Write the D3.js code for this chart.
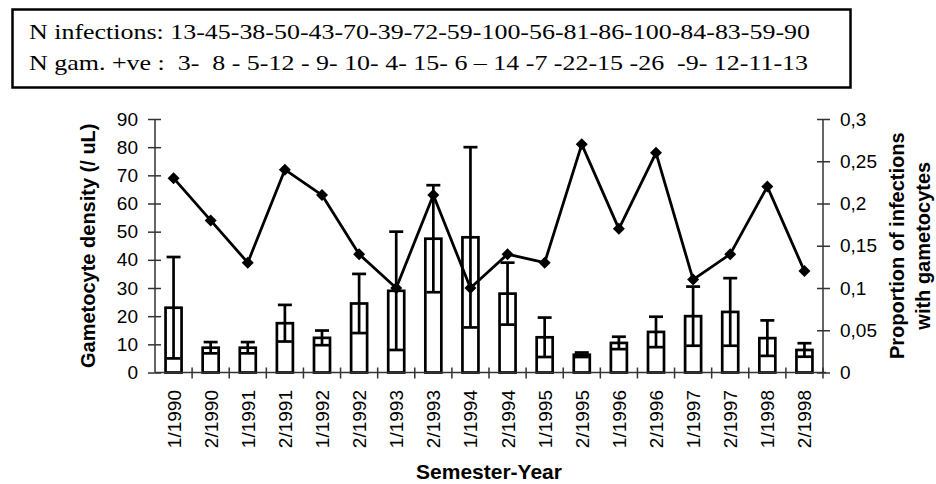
<!DOCTYPE html>
<html>
<head>
<meta charset="utf-8">
<script src="https://cdn.jsdelivr.net/npm/d3@7"></script>
<style>
  body { margin: 0; background: #fff; }
  svg { display: block; }
  .tick text { font-family: "Liberation Sans", Arial, sans-serif; }
</style>
</head>
<body>
<div class="plot"></div>
<script>
// semesters along the x axis
let semesters = ["1/1990", "2/1990", "1/1991", "2/1991", "1/1992", "2/1992",
                 "1/1993", "2/1993", "1/1994", "2/1994", "1/1995", "2/1995",
                 "1/1996", "2/1996", "1/1997", "2/1997", "1/1998", "2/1998"];

// gametocyte density (bars, left axis) and its error
let density    = [23, 8.8, 8.8, 17.5, 12.3, 24.5, 29, 47.5, 48, 28, 12.5, 6.3, 10.5, 14.4, 20, 21.5, 12.2, 8];
let densityErr = [18, 2, 2, 6.5, 2.6, 10.5, 21, 19, 32, 11, 7, 0.8, 2.2, 5.4, 10.5, 12, 6.3, 2.4];

// proportion of infections with gametocytes (line, right axis)
let proportion = [0.23, 0.18, 0.13, 0.24, 0.21, 0.14, 0.10, 0.21, 0.10, 0.14,
                  0.13, 0.27, 0.17, 0.26, 0.11, 0.14, 0.22, 0.12];

let leftTicks  = [0, 10, 20, 30, 40, 50, 60, 70, 80, 90];
let rightTicks = [0, 0.05, 0.1, 0.15, 0.2, 0.25, 0.3];

// the two lines of the text box above the chart
let boxLines = [
  "N infections: 13-45-38-50-43-70-39-72-59-100-56-81-86-100-84-83-59-90",
  "N gam. +ve :  3-  8 - 5-12 - 9- 10- 4- 15- 6 \u2013 14 -7 -22-15 -26  -9- 12-11-13"
];

let width = 936, height = 484;
let plotLeft = 155, plotRight = 823, plotTop = 119, plotBottom = 372.5;
let sans = '"Liberation Sans", Arial, sans-serif';

let svg = d3.select(".plot")
    .append("svg")
    .attr("width", width)
    .attr("height", height);

// text box
svg.append("rect")
    .attr("x", 12.5).attr("y", 9.5)
    .attr("width", 838).attr("height", 78)
    .attr("fill", "#fff")
    .attr("stroke", "#000")
    .attr("stroke-width", 2.5);

svg.selectAll("text.box-line")
    .data(boxLines)
    .enter()
    .append("text")
    .attr("class", "box-line")
    .attr("x", 29)
    .attr("y", (d, i) => 39 + i * 31)
    .attr("font-family", '"Liberation Serif", "Times New Roman", serif')
    .attr("font-size", 22)
    .attr("textLength", (d, i) => i === 0 ? 781 : 779)
    .attr("lengthAdjust", "spacingAndGlyphs")
    .style("white-space", "pre")
    .text(d => d);

var xScale = d3.scaleBand()
      .domain(semesters)
      .range([plotLeft, plotRight])
      .padding(0),
    yLeft = d3.scaleLinear()
      .domain([0, 90])
      .range([plotBottom, plotTop]),
    yRight = d3.scaleLinear()
      .domain([0, 0.3])
      .range([plotBottom, plotTop]);

let barWidth = 16;
let capWidth = 14;

function center(d) {
    return xScale(d) + xScale.bandwidth() / 2;
}

// bars
svg.append("g")
    .selectAll("rect")
    .data(semesters)
    .enter()
    .append("rect")
    .attr("x", d => center(d) - barWidth / 2)
    .attr("y", (d, i) => yLeft(density[i]))
    .attr("width", barWidth)
    .attr("height", (d, i) => yLeft(0) - yLeft(density[i]))
    .attr("fill", "#fff")
    .attr("stroke", "#000")
    .attr("stroke-width", 2.7);

// error bars (mean +/- err), lower cap sits inside the bar
let errG = svg.append("g")
    .attr("stroke", "#000")
    .attr("stroke-width", 2.7);

semesters.forEach((d, i) => {
    let cx = center(d);
    let hi = yLeft(density[i] + densityErr[i]);
    let lo = yLeft(Math.max(0, density[i] - densityErr[i]));
    errG.append("line")
        .attr("x1", cx).attr("x2", cx)
        .attr("y1", hi).attr("y2", lo);
    errG.append("line")
        .attr("x1", cx - capWidth / 2).attr("x2", cx + capWidth / 2)
        .attr("y1", hi).attr("y2", hi);
    errG.append("line")
        .attr("x1", cx - capWidth / 2).attr("x2", cx + capWidth / 2)
        .attr("y1", lo).attr("y2", lo);
});

// x axis: baseline and ticks at band edges
let axisColor = "#333";
let xAxisG = svg.append("g").attr("class", "x-axis");
xAxisG.append("line")
    .attr("x1", plotLeft).attr("x2", plotRight + 3)
    .attr("y1", plotBottom).attr("y2", plotBottom)
    .attr("stroke", axisColor).attr("stroke-width", 1.5);
xAxisG.selectAll("line.xtick")
    .data(semesters.slice(1).concat(["end"]))
    .enter()
    .append("line")
    .attr("class", "xtick")
    .attr("x1", d => d === "end" ? plotRight : xScale(d))
    .attr("x2", d => d === "end" ? plotRight : xScale(d))
    .attr("y1", plotBottom - 5)
    .attr("y2", plotBottom + 6)
    .attr("stroke", axisColor).attr("stroke-width", 1.5);

xAxisG.selectAll("text")
    .data(semesters)
    .enter()
    .append("text")
    .attr("transform", d => "translate(" + (center(d) + 7) + "," + 390 + ") rotate(-90)")
    .attr("text-anchor", "end")
    .attr("font-family", sans)
    .attr("font-size", 19)
    .attr("fill", "#000")
    .text(d => d);

// left axis
let yAxisL = d3.axisLeft(yLeft)
    .tickValues(leftTicks)
    .tickSize(7)
    .tickPadding(10)
    .tickFormat(d3.format("d"));

svg.append("g")
    .attr("class", "y-axis")
    .attr("transform", "translate(" + plotLeft + ",0)")
    .call(yAxisL)
    .call(g => {
        g.select(".domain").attr("stroke", axisColor).attr("stroke-width", 1.5).attr("d", "M0," + plotTop + "V" + plotBottom);
        g.selectAll(".tick line").attr("x1", 6).attr("x2", -7).attr("stroke", axisColor).attr("stroke-width", 1.5);
        g.selectAll(".tick text").attr("font-size", 19).attr("fill", "#000");
    });

// right axis
let yAxisR = d3.axisRight(yRight)
    .tickValues(rightTicks)
    .tickSize(7)
    .tickPadding(10)
    .tickFormat(d => d === 0 ? "0" : String(+d.toFixed(2)).replace(".", ","));

svg.append("g")
    .attr("class", "y-axis-right")
    .attr("transform", "translate(" + plotRight + ",0)")
    .call(yAxisR)
    .call(g => {
        g.select(".domain").attr("stroke", axisColor).attr("stroke-width", 1.5).attr("d", "M0," + plotTop + "V" + plotBottom);
        g.selectAll(".tick line").attr("x1", -6).attr("x2", 7).attr("stroke", axisColor).attr("stroke-width", 1.5);
        g.selectAll(".tick text").attr("font-size", 19).attr("fill", "#000");
    });

// proportion line with diamond markers
let line = d3.line()
    .x((d, i) => center(semesters[i]))
    .y(d => yRight(d));

svg.append("path")
    .datum(proportion)
    .attr("d", line)
    .attr("fill", "none")
    .attr("stroke", "#000")
    .attr("stroke-width", 2.8)
    .attr("stroke-linejoin", "round");

svg.append("g")
    .selectAll("path")
    .data(proportion)
    .enter()
    .append("path")
    .attr("d", d3.symbol().type(d3.symbolSquare).size(72))
    .attr("transform", (d, i) => "translate(" + center(semesters[i]) + "," + yRight(d) + ") rotate(45)")
    .attr("fill", "#000");

// axis titles
svg.append("text")
    .attr("transform", "translate(95," + (plotTop + plotBottom) / 2 + ") rotate(-90)")
    .attr("text-anchor", "middle")
    .attr("font-family", sans)
    .attr("font-weight", "bold")
    .attr("font-size", 20)
    .text("Gametocyte density (/ uL)");

svg.append("text")
    .attr("x", (plotLeft + plotRight) / 2)
    .attr("y", 479)
    .attr("text-anchor", "middle")
    .attr("font-family", sans)
    .attr("font-weight", "bold")
    .attr("font-size", 21)
    .text("Semester-Year");

let rightTitle = ["Proportion of infections", "with gametocytes"];
svg.selectAll("text.right-title")
    .data(rightTitle)
    .enter()
    .append("text")
    .attr("class", "right-title")
    .attr("transform", (d, i) => "translate(" + (904 + i * 26) + "," + (plotTop + plotBottom) / 2 + ") rotate(-90)")
    .attr("text-anchor", "middle")
    .attr("font-family", sans)
    .attr("font-weight", "bold")
    .attr("font-size", 20)
    .text(d => d);
</script>
</body>
</html>
